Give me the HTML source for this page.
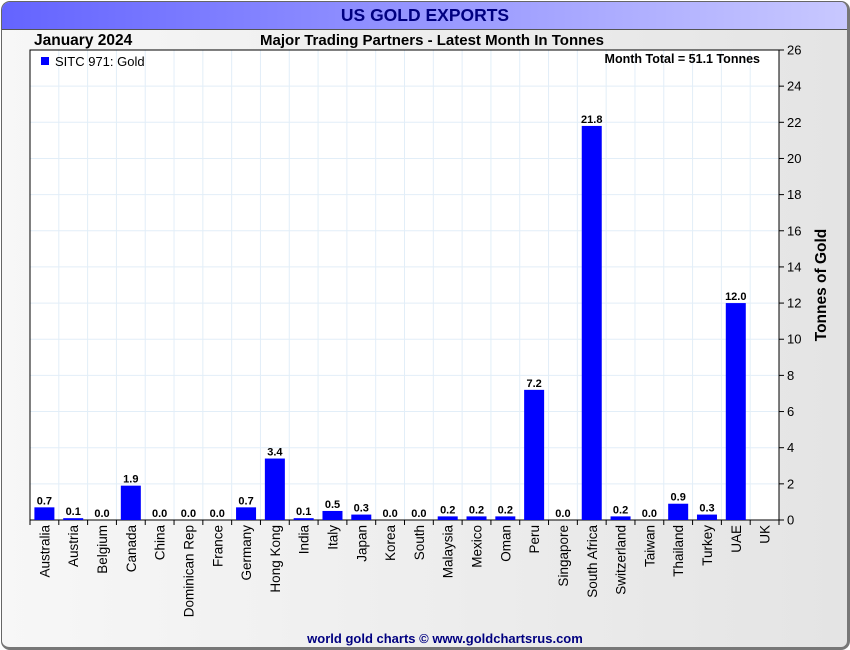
<!DOCTYPE html>
<html><head><meta charset="utf-8"><style>
body{margin:0;width:850px;height:650px;overflow:hidden;background:#fff;font-family:"Liberation Sans",Arial,sans-serif}
#frame{position:absolute;left:1px;top:1px;width:845px;height:645px;border:1px solid #666;border-right:3px solid #777;border-bottom:3px solid #777;border-radius:9px;background:linear-gradient(90deg,#f7f7f7,#e4e4e4);overflow:hidden}
#titlebar{position:absolute;left:0;top:0;width:100%;height:27px;background:linear-gradient(90deg,#6464ff,#c8c8ff);border-bottom:1px solid #555}
</style></head><body>
<div id="frame">
<div id="titlebar"></div>
</div>
<svg id="c" width="850" height="650" style="position:absolute;left:0;top:0" font-family="Liberation Sans, Arial, sans-serif"></svg>
<script>
const categories=["Australia","Austria","Belgium","Canada","China","Dominican Rep","France","Germany","Hong Kong","India","Italy","Japan","Korea","South","Malaysia","Mexico","Oman","Peru","Singapore","South Africa","Switzerland","Taiwan","Thailand","Turkey","UAE","UK"];
const values=[0.7,0.1,0.0,1.9,0.0,0.0,0.0,0.7,3.4,0.1,0.5,0.3,0.0,0.0,0.2,0.2,0.2,7.2,0.0,21.8,0.2,0.0,0.9,0.3,12.0,null];
const yTicks=[0,2,4,6,8,10,12,14,16,18,20,22,24,26];
const L=30,R=779,T=50,B=520,yMax=26;
const svg=document.getElementById('c');
const NS='http://www.w3.org/2000/svg';
function el(tag,attrs,parent){const e=document.createElementNS(NS,tag);for(const k in attrs)e.setAttribute(k,attrs[k]);(parent||svg).appendChild(e);return e;}
const bw=(R-L)/categories.length;
const x=i=>L+bw*i;
const y=v=>B-(v/yMax)*(B-T);
el('rect',{x:L,y:T,width:R-L,height:B-T,fill:'#fff'});
for(const t of yTicks){const g=el('line',{x1:L,x2:R,y1:y(t),y2:y(t),stroke:'#e2eef8','stroke-width':1});

}
for(let i=1;i<categories.length;i++){const g=el('line',{x1:x(i),x2:x(i),y1:T,y2:B,stroke:'#e2eef8','stroke-width':1});

}
el('rect',{x:L,y:T,width:R-L,height:B-T,fill:'none',stroke:'#000','stroke-width':1});
categories.forEach((c,i)=>{
 const cx=x(i)+bw/2;
 const tk=el('line',{x1:x(i),x2:x(i),y1:B,y2:B+5,stroke:'#000'});
 
 
 const lb=el('text',{x:0,y:0,transform:`translate(${cx+5},${B+5}) rotate(-90)`,'text-anchor':'end','font-size':13.5,fill:'#000'});
 lb.textContent=c;
 
 
 const v=values[i];
 if(v===null)return;
 const r=el('rect',{x:cx-10,y:y(v),width:20,height:B-y(v),fill:'#0000ff'});
 
 
 const vl=el('text',{x:cx,y:y(v)-3,'text-anchor':'middle','font-size':11,'font-weight':'bold',fill:'#000'});
 vl.textContent=v.toFixed(1);
 
 
});
el('line',{x1:x(categories.length),x2:x(categories.length),y1:B,y2:B+5,stroke:'#000'});
for(const t of yTicks){
 const tk=el('line',{x1:R,x2:R+5,y1:y(t),y2:y(t),stroke:'#000'});
 
 
 const lb=el('text',{x:R+8,y:y(t)+4.5,'font-size':13,fill:'#000'});
 lb.textContent=t;
 
 
}
</script>
<svg width="850" height="650" style="position:absolute;left:0;top:0" font-family="Liberation Sans, Arial, sans-serif">
<text x="425" y="21" text-anchor="middle" font-size="17.5" font-weight="bold" fill="#000080">US GOLD EXPORTS</text>
<text x="34" y="45" font-size="15.5" font-weight="bold" fill="#000">January 2024</text>
<text x="432" y="45" text-anchor="middle" font-size="15" font-weight="bold" fill="#000">Major Trading Partners - Latest Month In Tonnes</text>
<rect x="41" y="57" width="8" height="8" fill="#0000ff"/>
<text x="55" y="66" font-size="13" fill="#000">SITC 971: Gold</text>
<text x="760" y="63" text-anchor="end" font-size="12.5" font-weight="bold" fill="#000">Month Total = 51.1 Tonnes</text>
<text transform="translate(826,285) rotate(-90)" text-anchor="middle" font-size="15.5" font-weight="bold" fill="#000">Tonnes of Gold</text>
<text x="445" y="643" text-anchor="middle" font-size="13" font-weight="bold" fill="#000080">world gold charts © www.goldchartsrus.com</text>
</svg>
</body></html>
